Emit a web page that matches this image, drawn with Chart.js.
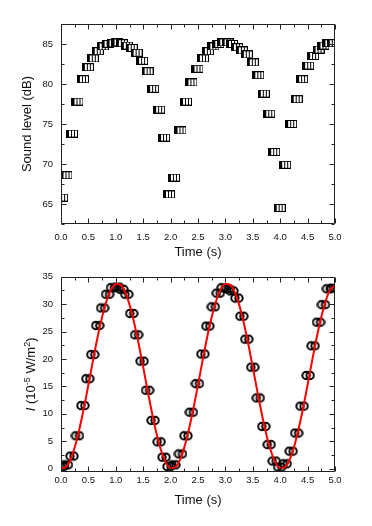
<!DOCTYPE html>
<html><head><meta charset="utf-8">
<script src="https://cdn.jsdelivr.net/npm/chart.js@4"></script>
<style>
html,body{margin:0;padding:0;background:#fff;width:372px;height:526px;overflow:hidden}
.box{position:absolute;left:0;width:372px;height:263px}
#b1{top:0}#b2{top:263px}
</style></head><body>
<div class="box" id="b1"><canvas id="c1" width="372" height="263"></canvas></div>
<div class="box" id="b2"><canvas id="c2" width="372" height="263"></canvas></div>
<script>
// ---- data ----
const time = [0.02,0.10,0.20,0.30,0.40,0.49,0.58,0.67,0.76,0.85,0.94,1.03,1.11,1.20,1.29,1.38,1.48,1.58,1.68,1.79,1.88,1.97,2.06,2.18,2.28,2.38,2.49,2.59,2.68,2.78,2.87,2.96,3.04,3.12,3.21,3.30,3.39,3.50,3.60,3.70,3.80,3.89,3.99,4.09,4.20,4.30,4.40,4.51,4.60,4.70,4.79,4.88,4.96];
const soundLevel = [65.8,68.6,73.8,77.8,80.6,82.1,83.2,84.1,84.7,85.0,85.1,85.2,85.1,84.8,84.5,83.9,82.9,81.6,79.4,76.8,73.3,66.2,68.3,74.2,77.8,80.2,81.9,83.2,84.1,84.7,85.0,85.2,85.2,85.0,84.6,84.2,83.7,82.7,81.1,78.8,76.3,71.5,64.5,69.9,75.0,78.1,80.6,82.3,83.5,84.3,84.8,85.1,85.1];
const intensity = [0.4,0.7,2.3,6.0,11.5,16.4,20.8,26.1,29.3,31.8,33.0,33.1,32.7,31.8,28.3,24.4,19.6,14.3,8.8,4.9,2.1,0.4,0.7,2.7,6.0,10.3,15.5,20.9,26.0,29.5,32.0,33.0,32.8,32.4,31.1,27.8,23.6,18.5,12.9,7.7,4.4,1.4,0.3,0.9,3.2,6.5,11.4,17.0,22.4,26.7,29.9,32.8,32.9];
const fitTime = [0.0,0.1,0.2,0.3,0.4,0.5,0.6,0.7,0.8,0.9,1.0,1.1,1.2,1.3,1.4,1.5,1.6,1.7,1.8,1.9,2.0,2.1,2.2,2.3,2.4,2.5,2.6,2.7,2.8,2.9,3.0,3.1,3.2,3.3,3.4,3.5,3.6,3.7,3.8,3.9,4.0,4.1,4.2,4.3,4.4,4.5,4.6,4.7,4.8,4.9,5.0];
const fitIntensity = [0.08,0.41,2.35,5.72,10.19,15.31,20.59,25.50,29.58,32.41,33.73,33.39,31.45,28.08,23.61,18.49,13.21,8.30,4.22,1.39,0.08,0.41,2.35,5.72,10.19,15.31,20.59,25.50,29.58,32.41,33.73,33.39,31.45,28.08,23.61,18.49,13.21,8.30,4.22,1.39,0.08,0.41,2.35,5.72,10.19,15.31,20.59,25.50,29.58,32.41,33.4];
const timeTicks = [0,0.5,1.0,1.5,2.0,2.5,3.0,3.5,4.0,4.5,5.0];
const levelTicks = [65,70,75,80,85];
const intensityTicks = [0,5,10,15,20,25,30,35];

const FONT = '"Liberation Sans", Arial, sans-serif';

function squareMarker(){
  const c=document.createElement('canvas'); c.width=12; c.height=8;
  const g=c.getContext('2d');
  g.fillStyle='#fff'; g.fillRect(0,0,12,8);
  g.fillStyle='#000';
  g.fillRect(0,0,12,1); g.fillRect(0,7,12,1); g.fillRect(0,0,1,8); g.fillRect(11,0,1,8);
  g.fillRect(1,0,2,8); g.fillRect(5,0,1,8); g.fillRect(8,0,1,8);
  return c;
}
function circleMarker(){
  const c=document.createElement('canvas'); c.width=14; c.height=11;
  const g=c.getContext('2d');
  g.strokeStyle='#000'; g.lineWidth=2;
  g.beginPath(); g.arc(5,5.5,3.7,0,2*Math.PI); g.stroke();
  g.beginPath(); g.arc(9,5.5,3.7,0,2*Math.PI); g.stroke();
  return c;
}

const framePlugin = {
  id:'frame',
  afterDatasetsDraw(chart, args, opts){
    const {ctx, chartArea:{left,right,top,bottom}, scales:{x,y}} = chart;
    ctx.save();
    ctx.strokeStyle='#222'; ctx.lineWidth=1;
    const L=Math.round(left)+0.5, R=Math.round(right)-0.5, T=Math.round(top)+0.5, B=Math.round(bottom)-0.5;
    ctx.beginPath(); ctx.rect(L,T,R-L,B-T); ctx.stroke();
    ctx.beginPath();
    const xs = x.ticks.map(t=>t.value);
    const xstep = xs[1]-xs[0];
    xs.forEach((v,i)=>{
      const p=Math.round(x.getPixelForValue(v))+0.5;
      ctx.moveTo(p,B); ctx.lineTo(p,B-5); ctx.moveTo(p,T); ctx.lineTo(p,T+5);
      if(i<xs.length-1){ const m=Math.round(x.getPixelForValue(v+xstep/2))+0.5;
        ctx.moveTo(m,B); ctx.lineTo(m,B-3); ctx.moveTo(m,T); ctx.lineTo(m,T+3);}
    });
    const ys = y.ticks.map(t=>t.value);
    const ystep = ys[1]-ys[0];
    const yv = [];
    ys.forEach(v=>yv.push([v,5]));
    for(let v=ys[0]-ystep/2; v<=y.max; v+=ystep){ if(v>=y.min && !ys.includes(v)) yv.push([v,3]); }
    yv.forEach(([v,len])=>{
      const p=Math.round(y.getPixelForValue(v))+0.5;
      ctx.moveTo(L,p); ctx.lineTo(L+len,p); ctx.moveTo(R,p); ctx.lineTo(R-len,p);
    });
    ctx.stroke();
    ctx.restore();
  }
};

const intensityTitle = {
  id:'ititle',
  afterDraw(chart){
    const {ctx, chartArea:{top,bottom}} = chart;
    const parts = [
      {t:'I', f:'italic 13px '+FONT, dy:0},
      {t:' (10', f:'13px '+FONT, dy:0},
      {t:'-5', f:'9px '+FONT, dy:-5},
      {t:' W/m', f:'13px '+FONT, dy:0},
      {t:'2', f:'9px '+FONT, dy:-5},
      {t:')', f:'13px '+FONT, dy:0}
    ];
    let w=0;
    parts.forEach(p=>{ctx.font=p.f; p.w=ctx.measureText(p.t).width; w+=p.w;});
    ctx.save();
    ctx.translate(35, (top+bottom)/2);
    ctx.rotate(-Math.PI/2);
    ctx.fillStyle='#111'; ctx.textBaseline='alphabetic';
    let xx=-w/2;
    parts.forEach(p=>{ctx.font=p.f; ctx.fillText(p.t, xx, p.dy); xx+=p.w;});
    ctx.restore();
  }
};

function xScale(pad, height, titlePadBottom){
  return {
    type:'linear', min:0, max:5,
    afterBuildTicks: s => { s.ticks = timeTicks.map(v=>({value:v})); },
    afterFit: s => { s.height = height; },
    grid:{display:false, drawTicks:false}, border:{display:false},
    ticks:{padding:pad, color:'#111', font:{family:FONT, size:9.5}, maxRotation:0, callback:v=>Number(v).toFixed(1)},
    title:{display:true, text:'Time (s)', color:'#111', font:{family:FONT, size:13}, padding:{top:0,bottom:titlePadBottom}}
  };
}

new Chart(document.getElementById('c1'), {
  type:'scatter',
  data:{datasets:[{
    label:'Sound level',
    data: time.map((t,i)=>({x:t,y:soundLevel[i]})),
    pointStyle: squareMarker(), pointRadius:6
  }]},
  options:{
    responsive:false, animation:false, devicePixelRatio:1,
    layout:{padding:{left:0,right:37,top:24,bottom:0}},
    plugins:{legend:{display:false}, tooltip:{enabled:false}},
    scales:{
      x: xScale(8, 39, 3),
      y:{
        type:'linear', min:62.5, max:87.5,
        afterBuildTicks: s => { s.ticks = levelTicks.map(v=>({value:v})); },
        afterFit: s => { s.width = 61; },
        grid:{display:false, drawTicks:false}, border:{display:false},
        ticks:{padding:8, color:'#111', font:{family:FONT, size:9.5}},
        title:{display:true, text:'Sound level (dB)', color:'#111', font:{family:FONT, size:13}, padding:{top:20,bottom:0}}
      }
    }
  },
  plugins:[framePlugin]
});

new Chart(document.getElementById('c2'), {
  type:'scatter',
  data:{datasets:[
    {
      type:'line', label:'fit',
      data: fitTime.map((t,i)=>({x:t,y:fitIntensity[i]})),
      borderColor:'#ff0000', borderWidth:2, pointRadius:0, fill:false,
      cubicInterpolationMode:'monotone', order:0
    },
    {
      label:'Intensity',
      data: time.map((t,i)=>({x:t,y:intensity[i]})),
      pointStyle: circleMarker(), pointRadius:6, order:1
    }
  ]},
  options:{
    responsive:false, animation:false, devicePixelRatio:1,
    layout:{padding:{left:0,right:37,top:9,bottom:0}},
    plugins:{legend:{display:false}, tooltip:{enabled:false}},
    scales:{
      x: xScale(3, 54, 18),
      y:{
        type:'linear', min:-0.6, max:35,
        afterBuildTicks: s => { s.ticks = intensityTicks.map(v=>({value:v})); },
        afterFit: s => { s.width = 61; },
        grid:{display:false, drawTicks:false}, border:{display:false},
        ticks:{padding:8, color:'#111', font:{family:FONT, size:9.5}},
        title:{display:false}
      }
    }
  },
  plugins:[framePlugin, intensityTitle]
});
</script>
</body></html>
